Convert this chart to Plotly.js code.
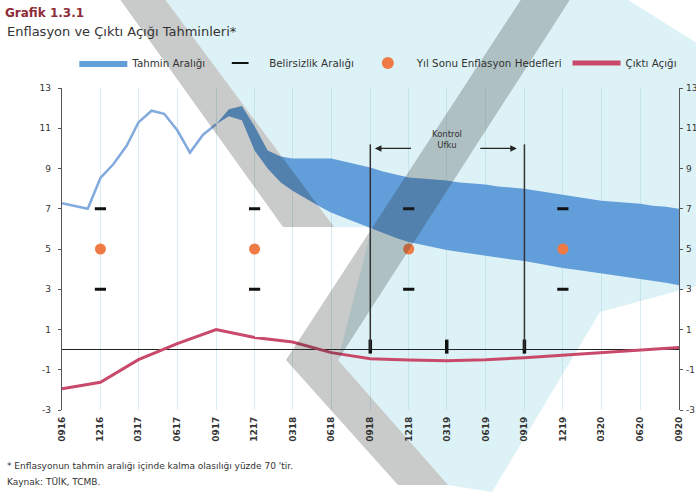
<!DOCTYPE html>
<html><head><meta charset="utf-8">
<script src="https://cdn.plot.ly/plotly-3.0.1.min.js"></script>
<style>html,body{margin:0;padding:0;background:#fff;} #chart{width:696px;height:495px;}</style>
</head><body><div id="chart"></div>
<script>
// ---------- DATA ----------
const tickDates = ['2016-09-01','2016-12-01','2017-03-01','2017-06-01','2017-09-01','2017-12-01','2018-03-01','2018-06-01','2018-09-01','2018-12-01','2019-03-01','2019-06-01','2019-09-01','2019-12-01','2020-03-01','2020-06-01','2020-09-01'];
const tickLabels = ['0916','1216','0317','0617','0917','1217','0318','0618','0918','1218','0319','0619','0919','1219','0320','0620','0920'];
const yTickVals = [-3,-1,1,3,5,7,9,11,13];
const yTickLabels = ['-3','-1','1','3','5','7','9','11','13'];

const actualDates = ['2016-09-01','2016-10-01','2016-11-01','2016-12-01','2017-01-01','2017-02-01','2017-03-01','2017-04-01','2017-05-01','2017-06-01','2017-07-01','2017-08-01','2017-09-01'];
const actualInflation = [7.28,7.16,7.00,8.53,9.22,10.13,11.29,11.87,11.72,10.90,9.79,10.68,11.20];

const bandDates = ['2017-09-01','2017-10-01','2017-11-01','2017-12-01','2018-01-01','2018-02-01','2018-03-01','2018-04-01','2018-05-01','2018-06-01','2018-07-01','2018-08-01','2018-09-01','2018-10-01','2018-11-01','2018-12-01','2019-01-01','2019-02-01','2019-03-01','2019-04-01','2019-05-01','2019-06-01','2019-07-01','2019-08-01','2019-09-01','2019-10-01','2019-11-01','2019-12-01','2020-01-01','2020-02-01','2020-03-01','2020-04-01','2020-05-01','2020-06-01','2020-07-01','2020-08-01','2020-09-01'];
const bandUpper = [11.2,11.95,12.1,11.1,9.9,9.6,9.5,9.5,9.5,9.5,9.35,9.2,9.05,8.85,8.7,8.55,8.5,8.45,8.4,8.3,8.25,8.2,8.1,8.05,8.0,7.9,7.8,7.7,7.6,7.5,7.4,7.35,7.3,7.25,7.15,7.1,7.0];
const bandLower = [11.2,11.6,11.4,9.9,9.0,8.3,7.9,7.5,7.15,6.8,6.55,6.3,6.05,5.8,5.55,5.35,5.2,5.05,4.95,4.85,4.75,4.65,4.55,4.48,4.4,4.28,4.17,4.05,3.97,3.88,3.8,3.7,3.6,3.5,3.42,3.32,3.2];

const targetDates = ['2016-12-01','2017-12-01','2018-12-01','2019-12-01'];
const targetValues = [5,5,5,5];
const uncertaintyUpper = [7,7,7,7];
const uncertaintyLower = [3,3,3,3];

const outputGapDates = tickDates;
const outputGap = [-1.95,-1.62,-0.5,0.3,1.0,0.6,0.38,-0.15,-0.45,-0.52,-0.55,-0.5,-0.4,-0.28,-0.15,-0.03,0.1];

const horizonStart = '2018-09-01';
const horizonEnd = '2019-09-01';
const horizonTop = 10.2;
const horizonMarkDates = ['2018-09-01','2019-03-01','2019-09-01'];
const horizonMarkValues = [0.15,0.15,0.15];

// ---------- STYLE ----------
const FONT = 'DejaVu Sans, Arial, sans-serif';
const TXT = '#333333';

// decorative scan watermark (pixel outline of the page background)
const ML = 62, MR = 17, MT = 88, MB = 85, W = 696, H = 495;
const PW = W - ML - MR, PH = H - MT - MB;
function toPaper(p){ return [(p[0]-ML)/PW, (H-MB-p[1])/PH]; }
function pathOf(pts){ return 'M' + pts.map(p=>{const q=toPaper(p);return q[0].toFixed(4)+','+q[1].toFixed(4);}).join(' L') + ' Z'; }
const wmCyan = [[164,-2],[625,-2],[700,45],[700,285],[600,312],[492,492],[448,485],[338,360],[372,227],[334,227]];
const wmStripe1 = [[119,-2],[164,-2],[334,227],[283,227]];
const wmChevron = [[522,-2],[571,-2],[338,360],[448,485],[398,485],[286,360]];

const traces = [
  {x: bandDates, y: bandLower, type:'scatter', mode:'lines', line:{width:0, color:'rgba(0,0,0,0)'}, showlegend:false, hoverinfo:'skip'},
  {x: bandDates, y: bandUpper, type:'scatter', mode:'lines', fill:'tonexty', fillcolor:'rgb(98,158,218)', line:{width:0, color:'rgb(98,158,218)'}, name:'Tahmin Aralığı'},
  {x: actualDates, y: actualInflation, type:'scatter', mode:'lines', line:{width:2.5, color:'rgb(130,170,222)'}, showlegend:false},
  {x: targetDates.concat(targetDates), y: uncertaintyUpper.concat(uncertaintyLower), type:'scatter', mode:'markers', name:'Belirsizlik Aralığı',
   marker:{symbol:'line-ew', size:8, color:'#111', line:{width:3, color:'#111'}}},
  {x: targetDates, y: targetValues, type:'scatter', mode:'markers', name:'Yıl Sonu Enflasyon Hedefleri',
   marker:{symbol:'circle', size:11, color:'#ee7b45'}},
  {x: outputGapDates, y: outputGap, type:'scatter', mode:'lines', name:'Çıktı Açığı', yaxis:'y2',
   line:{width:3, color:'#c9496a'}},
  {x: horizonMarkDates, y: horizonMarkValues, type:'scatter', mode:'markers', showlegend:false,
   marker:{symbol:'line-ns', size:10, color:'#111', line:{width:3.5, color:'#111'}}}
];

const yCommon = {range:[-3,13], tickvals:yTickVals, ticktext:yTickLabels, showgrid:false, zeroline:false,
  showline:true, linecolor:'#555', linewidth:1.2, ticks:'outside', ticklen:3, tickcolor:'#555',
  tickfont:{family:FONT, size:9, color:TXT}, automargin:false, fixedrange:true};

const layout = {
  width:W, height:H,
  margin:{l:ML, r:MR, t:MT, b:MB, pad:0},
  paper_bgcolor:'#ffffff', plot_bgcolor:'rgba(0,0,0,0)',
  font:{family:FONT, color:TXT},
  title:{text:'Grafik 1.3.1', x:5/W, xanchor:'left', xref:'container', y:1-13/H, yanchor:'middle', yref:'container',
         font:{family:FONT, size:12, color:'#8e2c38', weight:'bold'}},
  showlegend:true,
  legend:{orientation:'h', x:0.02, xanchor:'left', y:(H-MB-63)/PH, yanchor:'middle',
          font:{family:FONT, size:10.3, color:TXT},
          itemwidth:48, bgcolor:'rgba(0,0,0,0)', traceorder:'normal', itemsizing:'constant'},
  xaxis:{type:'date', range:['2016-09-01','2020-09-01'], tickvals:tickDates, ticktext:tickLabels, tickangle:-90,
         tickfont:{family:FONT, size:9, color:TXT, weight:'bold'}, ticks:'', showline:false, showgrid:true,
         gridcolor:'rgba(150,200,215,0.35)', gridwidth:1, zeroline:false, automargin:false, fixedrange:true, ticklabelstandoff:4},
  yaxis:Object.assign({}, yCommon, {side:'left', zeroline:true, zerolinecolor:'#222', zerolinewidth:1.5, ticklabelstandoff:5}),
  yaxis2:Object.assign({}, yCommon, {side:'right', overlaying:'y', ticklabelstandoff:1}),
  shapes:[
    {type:'path', xref:'paper', yref:'paper', path:pathOf(wmCyan), fillcolor:'#ddf2f6', line:{width:0}, layer:'below'},
    {type:'line', xref:'x', yref:'y', x0:horizonStart, x1:horizonStart, y0:0, y1:horizonTop, line:{color:'#333', width:1.5}},
    {type:'line', xref:'x', yref:'y', x0:horizonEnd, x1:horizonEnd, y0:0, y1:horizonTop, line:{color:'#333', width:1.5}},
    {type:'path', xref:'paper', yref:'paper', path:pathOf(wmStripe1), fillcolor:'rgba(40,45,45,0.25)', line:{width:0}, layer:'above'},
    {type:'path', xref:'paper', yref:'paper', path:pathOf(wmChevron), fillcolor:'rgba(40,45,45,0.25)', line:{width:0}, layer:'above'}
  ],
  annotations:[
    {xref:'paper', yref:'paper', x:(5-ML)/PW, y:(H-MB-32)/PH, xanchor:'left', yanchor:'middle', showarrow:false,
     text:'Enflasyon ve Çıktı Açığı Tahminleri*', font:{family:FONT, size:13, color:TXT}},
    {xref:'paper', yref:'paper', x:(5-ML)/PW, y:(H-MB-466)/PH, xanchor:'left', yanchor:'middle', showarrow:false,
     text:"* Enflasyonun tahmin aralığı içinde kalma olasılığı yüzde 70 'tir.", font:{family:FONT, size:9, color:TXT}},
    {xref:'paper', yref:'paper', x:(5-ML)/PW, y:(H-MB-482)/PH, xanchor:'left', yanchor:'middle', showarrow:false,
     text:'Kaynak: TÜİK, TCMB.', font:{family:FONT, size:9, color:TXT}},
    {xref:'x', yref:'y', x:'2019-03-01', y:10.45, showarrow:false, text:'Kontrol<br>Ufku',
     font:{family:FONT, size:8.5, color:TXT}},
    {xref:'x', yref:'y', axref:'x', ayref:'y', x:'2018-09-12', y:10.0, ax:'2018-12-10', ay:10.0, text:'',
     showarrow:true, arrowhead:2, arrowsize:1, arrowwidth:1.3, arrowcolor:'#222'},
    {xref:'x', yref:'y', axref:'x', ayref:'y', x:'2019-08-14', y:10.0, ax:'2019-05-16', ay:10.0, text:'',
     showarrow:true, arrowhead:2, arrowsize:1, arrowwidth:1.3, arrowcolor:'#222'}
  ]
};

Plotly.newPlot('chart', traces, layout, {displayModeBar:false, staticPlot:true});
</script></body></html>
